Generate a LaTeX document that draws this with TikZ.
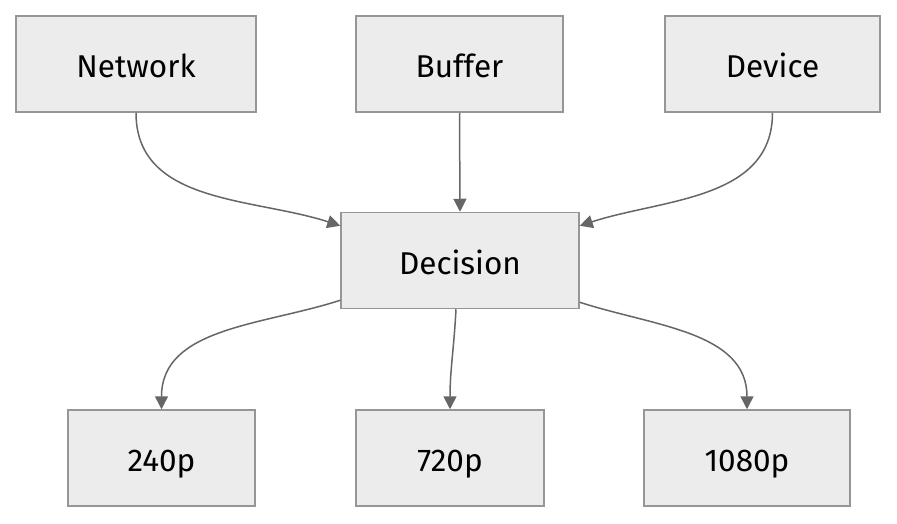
\documentclass[tikz,border=0pt]{standalone}
\usepackage{fontspec}
\setmainfont{Fira Sans}
\usetikzlibrary{arrows.meta}
\definecolor{boxline}{RGB}{150,150,150}
\definecolor{boxfill}{RGB}{236,236,236}
\definecolor{linkgray}{RGB}{102,102,102}
\tikzset{
    box/.style={draw=boxline, line width=1.5pt, fill=boxfill,
        minimum height=96pt, text height=27pt, text depth=0pt,
        font=\fontsize{31.5}{38}\selectfont},
    link/.style={draw=linkgray, line width=1.5pt,
        -{Triangle[length=13pt,width=13pt,fill=linkgray]}}
}
\begin{document}
\begin{tikzpicture}[x=1pt,y=-1pt]
    \useasboundingbox (0,0) rectangle (897,523);

    % Inputs
    \node[box, minimum width=240pt] (network) at (136,64) {Network};
    \node[box, minimum width=207pt] (buffer) at (459.5,64) {Buffer};
    \node[box, minimum width=215pt] (device) at (772.5,64) {Device};

    % Decision
    \node[box, minimum width=238pt] (decision) at (460,260.5) {Decision};

    % Outputs
    \node[box, minimum width=187pt] (low) at (161.5,458) {240p};
    \node[box, minimum width=188pt] (mid) at (450,458) {720p};
    \node[box, minimum width=206pt] (high) at (747,458) {1080p};

    % Links into decision
    \draw[link] (network.south) to[out=-90, in=162] ([yshift=-14pt]decision.north west);
    \draw[link] (buffer.south) -- (decision.north);
    \draw[link] (device.south) to[out=-90, in=18] ([yshift=-14pt]decision.north east);

    % Links out of decision
    \draw[link] ([yshift=9pt]decision.south west) to[out=198, in=90] (low.north);
    \draw[link] ([xshift=-4pt]decision.south) to[out=-93, in=90] (mid.north);
    \draw[link] ([yshift=7pt]decision.south east) to[out=-18, in=90] (high.north);
\end{tikzpicture}
\end{document}
